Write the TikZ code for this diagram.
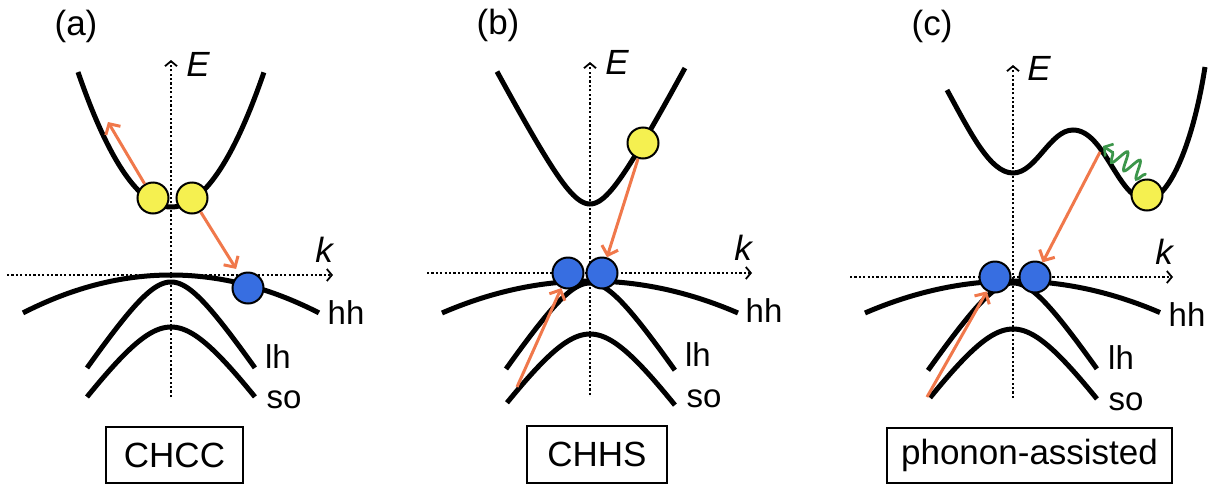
\documentclass[tikz,border=0pt]{standalone}
\usepackage{fontspec}
\setmainfont{Liberation Sans}
\usetikzlibrary{arrows.meta,decorations.pathmorphing}
\definecolor{oarr}{RGB}{240,120,75}
\definecolor{ylw}{RGB}{245,240,80}
\definecolor{blu}{RGB}{55,110,225}
\definecolor{grn}{RGB}{60,150,75}
\begin{document}
\begin{tikzpicture}[x=1pt,y=-1pt,
  band/.style={line width=5pt},
  axisline/.style={line width=2.2pt, dash pattern=on 2.2pt off 2.2pt, -{Straight Barb[length=5pt,width=12pt,line width=1.8pt]}},
  oarrow/.style={draw=oarr, line width=3pt, -{Straight Barb[length=8pt,width=17pt,line width=3pt]}},
  elec/.style={circle, draw=black, line width=2pt, fill=ylw, minimum size=31pt, inner sep=0pt},
  hole/.style={circle, draw=black, line width=2pt, fill=blu, minimum size=31pt, inner sep=0pt},
  lbl/.style={font=\fontsize{33}{38}\selectfont, inner sep=0pt},
  axlbl/.style={font=\fontsize{35}{40}\selectfont\itshape, inner sep=0pt},
  plbl/.style={font=\fontsize{35}{40}\selectfont, inner sep=0pt},
  mbox/.style={draw, line width=1.8pt, font=\fontsize{35}{40}\selectfont, inner sep=0pt}
]
\useasboundingbox (0,0) rectangle (1209,485);

% ================= (a) =================
\node[plbl] (pa) at (76,26) {(a)};
\coordinate (aE0) at (171,397); \coordinate (aE1) at (171,60);
\coordinate (ak0) at (7,275); \coordinate (ak1) at (333,275);
\draw[axisline] (aE0) -- (aE1);
\draw[axisline] (ak0) -- (ak1);
\node[axlbl] (aE) at (198,64) {E};
\node[axlbl] (ak) at (324,250) {k};
% bands
\draw[band] plot[variable=\t, domain=-0.93:0.93, samples=80, smooth] ({171+100*\t},{207-156*\t*\t});
\draw[band] plot[variable=\t, domain=-1.48:1.48, samples=80, smooth] ({171+100*\t},{275+17.3*\t*\t});
\draw[band] plot[variable=\t, domain=-0.84:0.84, samples=80, smooth] ({171+100*\t},{282+150*(sqrt(\t*\t+0.1082)-0.329)});
\draw[band] plot[variable=\t, domain=-0.84:0.84, samples=80, smooth] ({171+100*\t},{327+140*(sqrt(\t*\t+0.208)-0.456)});
\node[lbl] (ahh) at (346,313) {hh};
\node[lbl] (alh) at (278,357) {lh};
\node[lbl] (aso) at (284,400) {so};
% particles
\node[elec] (ay1) at (153,198) {};
\node[elec] (ay2) at (192,198) {};
\node[hole] (ab1) at (248,288) {};
\coordinate (atip) at (108,122);
\draw[oarrow] (ay1) -- (atip);
\draw[oarrow, shorten >=6pt] (ay2) -- (ab1);
\node[mbox, minimum width=137pt, minimum height=56pt] (abox) at (174.5,455) {CHCC};

% ================= (b) =================
\node[plbl] (pb) at (498,25) {(b)};
\coordinate (bE0) at (590,395); \coordinate (bE1) at (590,62);
\coordinate (bk0) at (427,273); \coordinate (bk1) at (752,273);
\draw[axisline] (bE0) -- (bE1);
\draw[axisline] (bk0) -- (bk1);
\node[axlbl] (bE) at (617,62) {E};
\node[axlbl] (bk) at (743,248) {k};
\draw[band] plot[variable=\t, domain=-0.93:0.95, samples=80, smooth] ({590+100*\t},{204-190*(sqrt(\t*\t+0.074)-0.272)});
\draw[band] plot[variable=\t, domain=-1.48:1.48, samples=80, smooth] ({590+100*\t},{281+14.6*\t*\t});
\draw[band] plot[variable=\t, domain=-0.84:0.85, samples=80, smooth] ({590+100*\t},{283+150*(sqrt(\t*\t+0.1082)-0.329)});
\draw[band] plot[variable=\t, domain=-0.83:0.85, samples=80, smooth] ({590+100*\t},{334+140*(sqrt(\t*\t+0.208)-0.456)});
\node[lbl] (bhh) at (764,311) {hh};
\node[lbl] (blh) at (698,355) {lh};
\node[lbl] (bso) at (704,399) {so};
\node[elec] (by1) at (643,143) {};
\node[hole] (bb1) at (568,273) {};
\node[hole] (bb2) at (602,273) {};
\coordinate (bst) at (517,387);
\draw[oarrow] (by1) -- (bb2);
\draw[oarrow] (bst) -- (bb1);
\node[mbox, minimum width=140pt, minimum height=57pt] (bbox) at (597,454.5) {CHHS};

% ================= (c) =================
\node[plbl] (pc) at (932,26) {(c)};
\coordinate (cE0) at (1013,398); \coordinate (cE1) at (1013,65);
\coordinate (ck0) at (850,277); \coordinate (ck1) at (1173,277);
\draw[axisline] (cE0) -- (cE1);
\draw[axisline] (ck0) -- (ck1);
\node[axlbl] (cE) at (1039,68) {E};
\node[axlbl] (ck) at (1164,252) {k};
\draw[band] (947,90) .. controls (970,132) and (990,173) .. (1013,173)
  .. controls (1036,173) and (1050,130) .. (1073,130)
  .. controls (1105,130) and (1118,200) .. (1147,200)
  .. controls (1167,200) and (1192,150) .. (1205,67);
\draw[band] plot[variable=\t, domain=-1.48:1.47, samples=80, smooth] ({1013+100*\t},{281+14.6*\t*\t});
\draw[band] plot[variable=\t, domain=-0.85:0.84, samples=80, smooth] ({1013+100*\t},{283+150*(sqrt(\t*\t+0.1082)-0.329)});
\draw[band] plot[variable=\t, domain=-0.83:0.84, samples=80, smooth] ({1013+100*\t},{329+140*(sqrt(\t*\t+0.208)-0.456)});
\node[lbl] (chh) at (1187,315) {hh};
\node[lbl] (clh) at (1121,358) {lh};
\node[lbl] (cso) at (1126,402) {so};
\coordinate (cph0) at (1146,175);
\coordinate (cph1) at (1103,146);
\draw[grn, line width=2.8pt, decorate, decoration={snake, amplitude=9pt, segment length=15pt, post length=4pt, pre length=1pt}, -{Straight Barb[length=6pt,width=15pt,line width=2.6pt]}] (cph0) -- (cph1);
\node[elec] (cy1) at (1147,195) {};
\node[hole] (cb1) at (995,277) {};
\node[hole] (cb2) at (1035,277) {};
\coordinate (cst1) at (1100,152);
\coordinate (cst2) at (927,397);
\draw[oarrow] (cst1) -- (cb2);
\draw[oarrow] (cst2) -- (cb1);
\node[mbox, minimum width=285pt, minimum height=55pt] (cbox) at (1029.5,455.5) {phonon-assisted};
\end{tikzpicture}
\end{document}
